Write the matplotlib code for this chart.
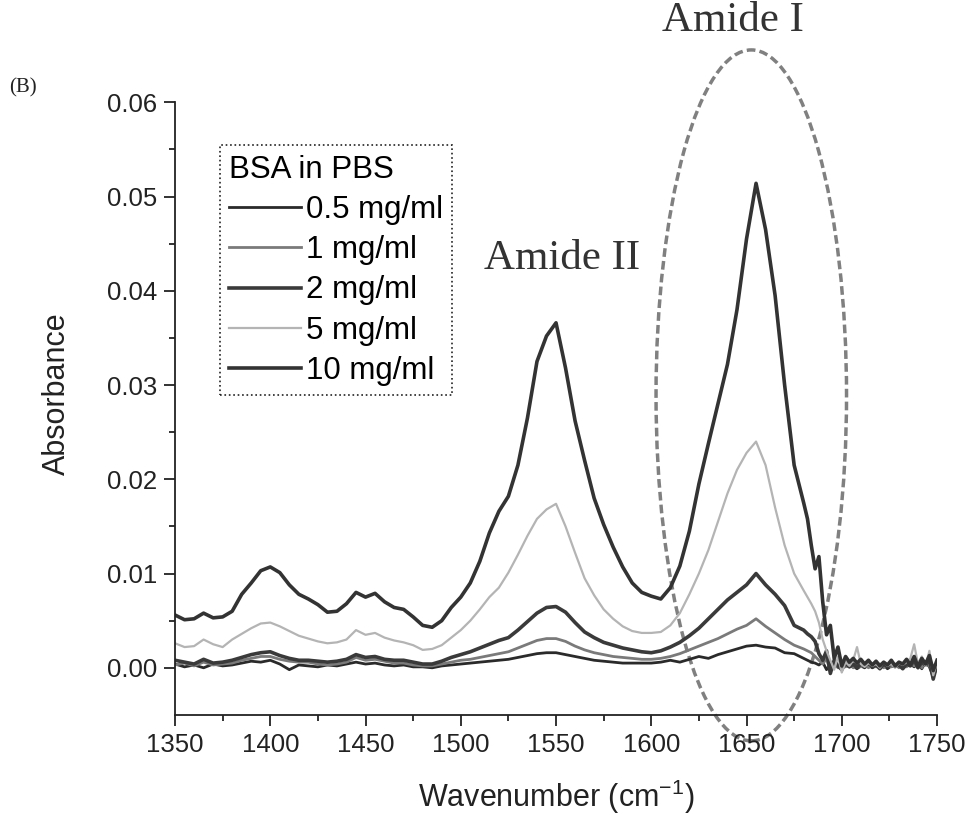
import numpy as np
import matplotlib
matplotlib.use('Agg')
import matplotlib.pyplot as plt
from matplotlib.patches import Ellipse

plt.rcParams['font.family'] = ['Liberation Sans', 'DejaVu Sans']
plt.rcParams['mathtext.default'] = 'regular'

# wavenumber grid: 5 cm-1 steps up to 1680, 2 cm-1 steps in the noisy water-vapour region
wavenumber = np.concatenate([np.arange(1350, 1681, 5), np.arange(1682, 1751, 2)])

labels = ['0.5 mg/ml', '1 mg/ml', '2 mg/ml', '5 mg/ml', '10 mg/ml']

abs_05 = [0.0004, 0.0001, 0.0003, 0.0000, 0.0004, 0.0002, 0.0003, 0.0005, 0.0007, 0.0006,
          0.0008, 0.0004, -0.0002, 0.0003, 0.0002, 0.0001, 0.0003, 0.0002, 0.0004, 0.0006,
          0.0004, 0.0005, 0.0003, 0.0002, 0.0003, 0.0001, 0.0001, 0.0000, 0.0002, 0.0003,
          0.0004, 0.0005, 0.0006, 0.0007, 0.0008, 0.0009, 0.0011, 0.0013, 0.0015, 0.0016,
          0.0016, 0.0014, 0.0012, 0.0010, 0.0008, 0.0007, 0.0006, 0.0005, 0.0005, 0.0005,
          0.0005, 0.0006, 0.0008, 0.0006, 0.0009, 0.0012, 0.0010, 0.0014, 0.0017, 0.0020,
          0.0023, 0.0024, 0.0022, 0.0021, 0.0016, 0.0015, 0.0010,
          0.0008, 0.0006, 0.0005, 0.0003, 0.0006, -0.0002, 0.0004, 0.0001, 0.0003, 0.0000,
          0.0003, 0.0001, 0.0002, -0.0001, 0.0002, 0.0000, 0.0003, 0.0000, 0.0002, 0.0001,
          0.0003, -0.0001, 0.0002, 0.0001, 0.0003, 0.0000, 0.0002, 0.0004, 0.0001, 0.0005,
          -0.0001, 0.0006, 0.0001, -0.0010, 0.0002]

abs_1 = [0.0003, 0.0005, 0.0002, 0.0006, 0.0003, 0.0004, 0.0005, 0.0008, 0.0010, 0.0012,
         0.0012, 0.0009, 0.0007, 0.0006, 0.0006, 0.0004, 0.0003, 0.0004, 0.0006, 0.0011,
         0.0008, 0.0009, 0.0007, 0.0005, 0.0005, 0.0003, 0.0002, 0.0002, 0.0004, 0.0006,
         0.0008, 0.0009, 0.0011, 0.0013, 0.0015, 0.0017, 0.0021, 0.0025, 0.0029, 0.0031,
         0.0031, 0.0028, 0.0023, 0.0019, 0.0016, 0.0014, 0.0012, 0.0011, 0.0010, 0.0009,
         0.0009, 0.0010, 0.0012, 0.0015, 0.0019, 0.0023, 0.0027, 0.0031, 0.0036, 0.0041,
         0.0045, 0.0052, 0.0044, 0.0037, 0.0030, 0.0024, 0.0020,
         0.0018, 0.0016, 0.0012, 0.0008, 0.0004, 0.0010, -0.0004, 0.0005, 0.0000, 0.0003,
         0.0001, 0.0004, 0.0000, 0.0003, 0.0001, 0.0004, 0.0000, 0.0003, 0.0001, 0.0004,
         0.0000, 0.0003, 0.0001, 0.0004, 0.0000, 0.0003, 0.0001, 0.0005, 0.0002, 0.0006,
         0.0000, 0.0007, 0.0002, -0.0005, 0.0003]

abs_2 = [0.0008, 0.0006, 0.0004, 0.0009, 0.0005, 0.0006, 0.0008, 0.0011, 0.0014, 0.0016,
         0.0017, 0.0013, 0.0010, 0.0008, 0.0008, 0.0007, 0.0006, 0.0007, 0.0009, 0.0014,
         0.0011, 0.0012, 0.0009, 0.0008, 0.0008, 0.0006, 0.0004, 0.0004, 0.0007, 0.0011,
         0.0014, 0.0017, 0.0021, 0.0025, 0.0029, 0.0032, 0.0040, 0.0049, 0.0058, 0.0064,
         0.0065, 0.0059, 0.0048, 0.0038, 0.0032, 0.0027, 0.0024, 0.0021, 0.0019, 0.0017,
         0.0016, 0.0018, 0.0022, 0.0027, 0.0034, 0.0042, 0.0052, 0.0062, 0.0072, 0.0080,
         0.0088, 0.0100, 0.0088, 0.0078, 0.0066, 0.0045, 0.0040,
         0.0036, 0.0033, 0.0028, 0.0015, 0.0008, 0.0018, -0.0006, 0.0008, 0.0002, -0.0002,
         0.0005, 0.0001, 0.0004, 0.0000, 0.0004, 0.0002, 0.0005, 0.0001, 0.0003, -0.0001,
         0.0004, 0.0001, 0.0005, 0.0002, 0.0003, -0.0001, 0.0004, 0.0002, 0.0008, 0.0000,
         0.0006, 0.0003, 0.0009, -0.0012, 0.0004]

abs_5 = [0.0026, 0.0022, 0.0023, 0.0030, 0.0025, 0.0022, 0.0030, 0.0036, 0.0042, 0.0047,
         0.0048, 0.0044, 0.0039, 0.0034, 0.0031, 0.0028, 0.0026, 0.0027, 0.0030, 0.0040,
         0.0035, 0.0037, 0.0032, 0.0029, 0.0027, 0.0024, 0.0019, 0.0020, 0.0024, 0.0032,
         0.0040, 0.0050, 0.0062, 0.0075, 0.0085, 0.0101, 0.0120, 0.0140, 0.0158, 0.0168,
         0.0174, 0.0150, 0.0122, 0.0095, 0.0077, 0.0062, 0.0052, 0.0044, 0.0039, 0.0037,
         0.0037, 0.0038, 0.0045, 0.0058, 0.0078, 0.0100, 0.0125, 0.0155, 0.0185, 0.0210,
         0.0228, 0.0240, 0.0215, 0.0170, 0.0130, 0.0100, 0.0082,
         0.0075, 0.0068, 0.0060, 0.0048, 0.0030, 0.0018, 0.0008, -0.0002, 0.0012, -0.0005,
         0.0006, 0.0002, 0.0008, 0.0022, 0.0004, 0.0001, 0.0005, 0.0002, 0.0004, 0.0000,
         0.0006, 0.0002, 0.0004, 0.0000, 0.0005, 0.0003, 0.0006, 0.0010, 0.0025, 0.0004,
         0.0012, 0.0002, 0.0018, -0.0008, 0.0006]

abs_10 = [0.0056, 0.0051, 0.0052, 0.0058, 0.0053, 0.0054, 0.0060, 0.0078, 0.0090, 0.0103,
          0.0107, 0.0101, 0.0088, 0.0078, 0.0073, 0.0067, 0.0059, 0.0060, 0.0068, 0.0080,
          0.0075, 0.0079, 0.0070, 0.0064, 0.0062, 0.0054, 0.0045, 0.0043, 0.0050, 0.0064,
          0.0075, 0.0090, 0.0113, 0.0143, 0.0166, 0.0182, 0.0215, 0.0265, 0.0325, 0.0352,
          0.0366, 0.0318, 0.0262, 0.0220, 0.0180, 0.0152, 0.0128, 0.0107, 0.0090, 0.0080,
          0.0076, 0.0073, 0.0085, 0.0108, 0.0145, 0.0195, 0.0238, 0.0280, 0.0322, 0.0380,
          0.0455, 0.0514, 0.0465, 0.0395, 0.0300, 0.0215, 0.0175,
          0.0158, 0.0130, 0.0105, 0.0118, 0.0070, 0.0035, 0.0045, 0.0010, 0.0022, 0.0002,
          0.0012, 0.0006, 0.0010, 0.0005, 0.0009, 0.0004, 0.0008, 0.0003, 0.0007, 0.0002,
          0.0006, 0.0003, 0.0008, 0.0002, 0.0006, 0.0004, 0.0009, 0.0003, 0.0012, 0.0001,
          0.0010, 0.0004, 0.0013, -0.0003, 0.0008]

series = [abs_05, abs_1, abs_2, abs_5, abs_10]
colors = ['#2a2a2a', '#7a7a7a', '#3a3a3a', '#b4b4b4', '#333333']
widths = [2.0, 2.0, 2.6, 1.6, 2.6]

fig = plt.figure(figsize=(9.67, 8.18), dpi=100)
ax = fig.add_axes([0.181, 0.126, 0.788, 0.749])

for y, lab, c, lw in zip(series, labels, colors, widths):
    ax.plot(wavenumber, y, color=c, lw=lw, label=lab)

ax.set_xlim(1350, 1750)
ax.set_ylim(-0.005, 0.06)
ax.set_xticks(np.arange(1350, 1751, 50))
ax.set_xticks(np.arange(1375, 1750, 50), minor=True)
ax.set_yticks([0.0, 0.01, 0.02, 0.03, 0.04, 0.05, 0.06])
ax.set_yticks([0.005, 0.015, 0.025, 0.035, 0.045, 0.055], minor=True)
ax.yaxis.set_major_formatter(matplotlib.ticker.FormatStrFormatter('%.2f'))

for s in ['top', 'right']:
    ax.spines[s].set_visible(False)
for s in ['left', 'bottom']:
    ax.spines[s].set_linewidth(1.3)
    ax.spines[s].set_color('#222222')

ax.tick_params(which='major', direction='out', length=8, width=1.3, labelsize=18.5,
               colors='#222222', pad=5)
ax.tick_params(which='minor', direction='out', length=4, width=1.3, colors='#222222')

ax.set_xlabel('Wavenumber (cm$^{-1}$)', fontsize=22, color='#222222')
ax.set_ylabel('Absorbance', fontsize=22, color='#222222')
ax.xaxis.set_label_coords(0.5, -0.103)
ax.yaxis.set_label_coords(-0.135, 0.525)

leg = ax.legend(title='BSA in PBS', loc='upper left', bbox_to_anchor=(0.059, 0.930),
                borderaxespad=0, fontsize=22.5, title_fontsize=22.5, handlelength=2.3,
                handletextpad=0.15, labelspacing=0.33, borderpad=0.3, fancybox=False,
                framealpha=1, edgecolor='#222222', alignment='left')
leg.get_frame().set_linestyle(':')
leg.get_frame().set_linewidth(1.2)

# Amide I highlight
ax.add_patch(Ellipse((1652.5, 0.0289), width=100, height=0.0733, fill=False,
                     ls=(0, (2.5, 1.2)), lw=2.5, ec='#808080', clip_on=False))

fig.text(0.758, 0.975, 'Amide I', family='Liberation Serif', fontsize=31,
         ha='center', va='center', color='#333333')
fig.text(0.581, 0.684, 'Amide II', family='Liberation Serif', fontsize=31,
         ha='center', va='center', color='#333333')
fig.text(0.024, 0.893, '(B)', family='Liberation Serif', fontsize=15,
         ha='center', va='center', color='#222222')

fig.savefig('out.png', dpi=100)
